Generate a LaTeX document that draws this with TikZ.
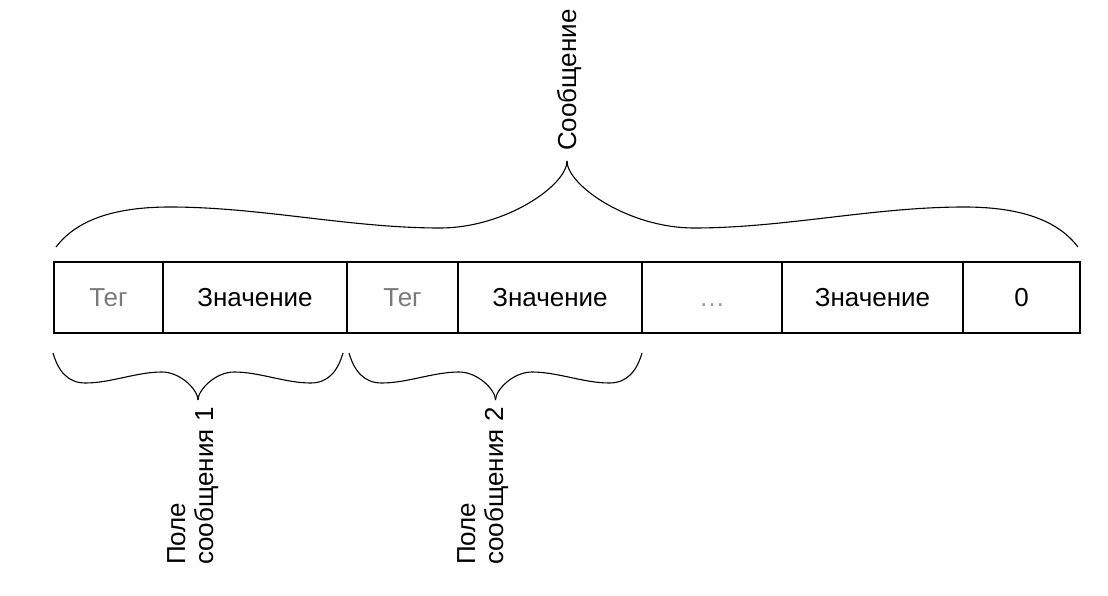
\documentclass[tikz,border=0pt]{standalone}
\usepackage{fontspec}
\setmainfont{Liberation Sans}
\definecolor{taggray}{HTML}{7A7A7A}
\definecolor{dotgray}{HTML}{9A9A9A}
\tikzset{
  cell/.style={draw, line width=1.4pt, minimum height=71pt, inner sep=0pt, outer sep=0pt, anchor=north west, text height=18.7pt, text depth=0pt, font=\fontsize{26}{28}\selectfont},
  bracel/.style={line width=1.1pt},
  lbl/.style={rotate=90, inner sep=0pt, font=\fontsize{26}{28}\selectfont, align=left}
}
% half brace: #1 x of end, #2 signed width (end to tip), #3 y end, #4 y outer bump, #5 y inner, #6 y tip
\newcommand\halfbrace[6]{%
  \begin{scope}[shift={(#1,0)}, xscale=#2]
    \draw[bracel] (0,#3) .. controls (0.037,{#3+0.62*(#4-#3)}) and (0.105,#4) .. (0.223,#4)
      .. controls (0.4,#4) and (0.575,#5) .. (0.751,#5)
      .. controls (0.88,#5) and (1,{#5+0.64*(#6-#5)}) .. (1,#6);
  \end{scope}}
\begin{document}
\begin{tikzpicture}[x=1pt, y=-1pt]
\useasboundingbox (0,0) rectangle (1108,596);
% cells
\node[cell, minimum width=109pt, text=taggray] (t1) at (54,262) {Тег};
\node[cell, minimum width=184pt] (v1) at (t1.north east) {Значение};
\node[cell, minimum width=111pt, text=taggray] (t2) at (v1.north east) {Тег};
\node[cell, minimum width=184pt] (v2) at (t2.north east) {Значение};
\node[cell, minimum width=140pt, text=dotgray] (dots) at (v2.north east) {…};
\node[cell, minimum width=181pt] (v3) at (dots.north east) {Значение};
\node[cell, minimum width=117pt] (z) at (v3.north east) {0};
% top brace
\halfbrace{56}{511}{247}{207}{228}{161}
\halfbrace{1078}{-511}{247}{207}{228}{161}
% bottom braces
\halfbrace{53}{145}{353}{383}{372}{400}
\halfbrace{343}{-145}{353}{383}{372}{400}
\halfbrace{349}{146.5}{353}{383}{372}{400}
\halfbrace{642}{-146.5}{353}{383}{372}{400}
% labels
\node[lbl, anchor=base west] (msg) at (576,151) {Сообщение};
\node[lbl, anchor=north west] (f1) at (167,565) {Поле\\сообщения 1};
\node[lbl, anchor=north west] (f2) at (457,565) {Поле\\сообщения 2};
\end{tikzpicture}
\end{document}
